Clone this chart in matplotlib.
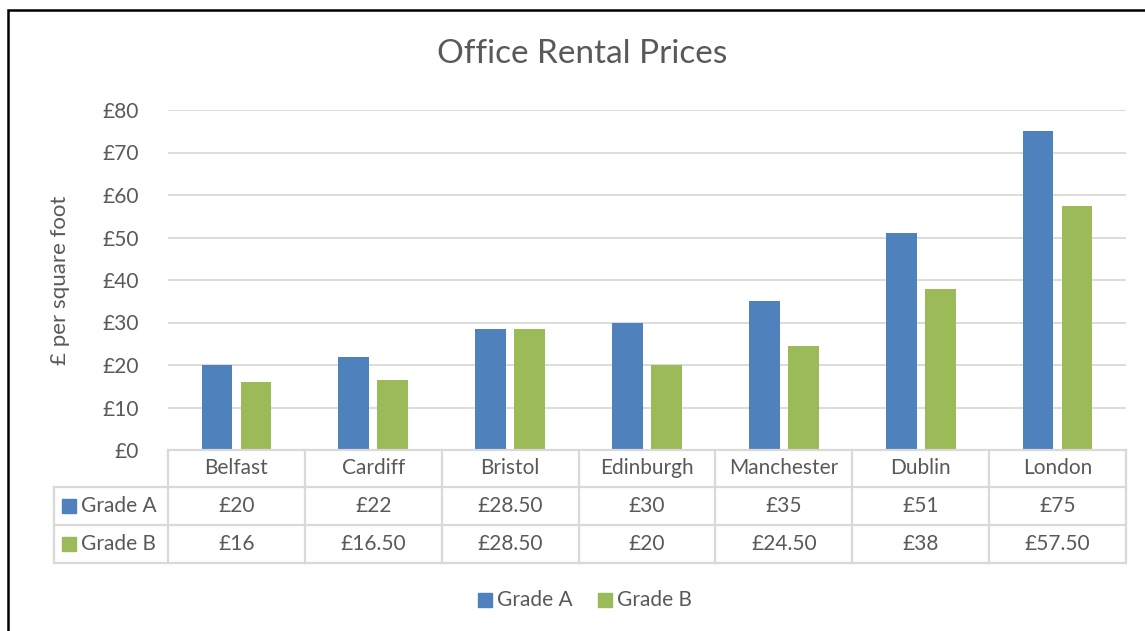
import matplotlib
matplotlib.use("Agg")
import matplotlib.pyplot as plt
from matplotlib.lines import Line2D
from matplotlib.patches import Rectangle
import numpy as np

categories = ["Belfast", "Cardiff", "Bristol", "Edinburgh", "Manchester", "Dublin", "London"]
grade_a = [20, 22, 28.5, 30, 35, 51, 75]
grade_b = [16, 16.5, 28.5, 20, 24.5, 38, 57.5]
series_names = ["Grade A", "Grade B"]
y_ticks = [0, 10, 20, 30, 40, 50, 60, 70, 80]

BLUE = "#4F81BD"
GREEN = "#9BBB59"
TXT = "#595959"
GRID = "#D9D9D9"
plt.rcParams['font.family'] = ['Lato', 'DejaVu Sans']
FS = 15

W, H = 1145, 631
fig = plt.figure(figsize=(W / 100, H / 100), dpi=100)

def fx(px):
    return px / W

def fy(py):
    return 1 - py / H

# outer chart border
fig.add_artist(Rectangle((fx(8), fy(640)), fx(1150) - fx(8), fy(10) - fy(640),
                         transform=fig.transFigure, fill=False, edgecolor="black", lw=1.8))

L, R, T, B = 168, 1126, 110, 450
ax = fig.add_axes([fx(L), fy(B), fx(R) - fx(L), fy(T) - fy(B)])
n = len(categories)
x = np.arange(n)
bw = 0.225
gap = 0.03
ax.bar(x - bw / 2 - gap, grade_a, bw, color=BLUE, zorder=3)
ax.bar(x + bw / 2 + gap, grade_b, bw, color=GREEN, zorder=3)
ax.set_xlim(-0.5, n - 0.5)
ax.set_ylim(0, 80)
ax.set_yticks(y_ticks)
ax.set_yticklabels([f"£{v}" for v in y_ticks], color=TXT, fontsize=FS)
ax.tick_params(axis='y', length=0, pad=21)
ax.set_xticks([])
ax.grid(axis='y', color=GRID, lw=1.3, zorder=0)
for s in ax.spines.values():
    s.set_visible(False)

fig.text(fx(60), fy(280), "£ per square foot", rotation=90, ha="center", va="center",
         color=TXT, fontsize=16)

fig.text(fx(582), fy(54), "Office Rental Prices", ha="center", va="center",
         fontsize=24, color=TXT)

# data table
col_w = (R - L) / n
rows_y = [450, 487, 525, 563]
lw_t = 1.6

def hline(x0, x1, y):
    fig.add_artist(Line2D([fx(x0), fx(x1)], [fy(y), fy(y)], color=GRID, lw=lw_t,
                          transform=fig.transFigure))

def vline(x0, y0, y1):
    fig.add_artist(Line2D([fx(x0), fx(x0)], [fy(y0), fy(y1)], color=GRID, lw=lw_t,
                          transform=fig.transFigure))

hline(L, R, rows_y[0])
hline(54, R, rows_y[1])
hline(54, R, rows_y[2])
hline(54, R, rows_y[3])
vline(54, rows_y[1], rows_y[3])
for i in range(n + 1):
    vline(L + i * col_w, rows_y[0], rows_y[3])

def fmt(v):
    return f"£{v:.0f}" if float(v).is_integer() else f"£{v:.2f}"

for i, c in enumerate(categories):
    cx = L + (i + 0.5) * col_w
    fig.text(fx(cx), fy((rows_y[0] + rows_y[1]) / 2), c, ha="center", va="center",
             fontsize=FS, color=TXT)
    fig.text(fx(cx), fy((rows_y[1] + rows_y[2]) / 2), fmt(grade_a[i]), ha="center",
             va="center", fontsize=FS, color=TXT)
    fig.text(fx(cx), fy((rows_y[2] + rows_y[3]) / 2), fmt(grade_b[i]), ha="center",
             va="center", fontsize=FS, color=TXT)

for j, (name, col) in enumerate(zip(series_names, [BLUE, GREEN])):
    yc = (rows_y[j + 1] + rows_y[j + 2]) / 2
    fig.add_artist(Rectangle((fx(62), fy(yc + 7)), fx(14), fy(0) - fy(14),
                             transform=fig.transFigure, color=col))
    fig.text(fx(81), fy(yc), name, ha="left", va="center", fontsize=FS, color=TXT)

# legend
leg_items = [(478, "Grade A", BLUE), (598, "Grade B", GREEN)]
for x0, name, col in leg_items:
    fig.add_artist(Rectangle((fx(x0), fy(607)), fx(14), fy(0) - fy(14),
                             transform=fig.transFigure, color=col))
    fig.text(fx(x0 + 19), fy(600), name, ha="left", va="center", fontsize=FS, color=TXT)

fig.savefig("out.png", dpi=100)
